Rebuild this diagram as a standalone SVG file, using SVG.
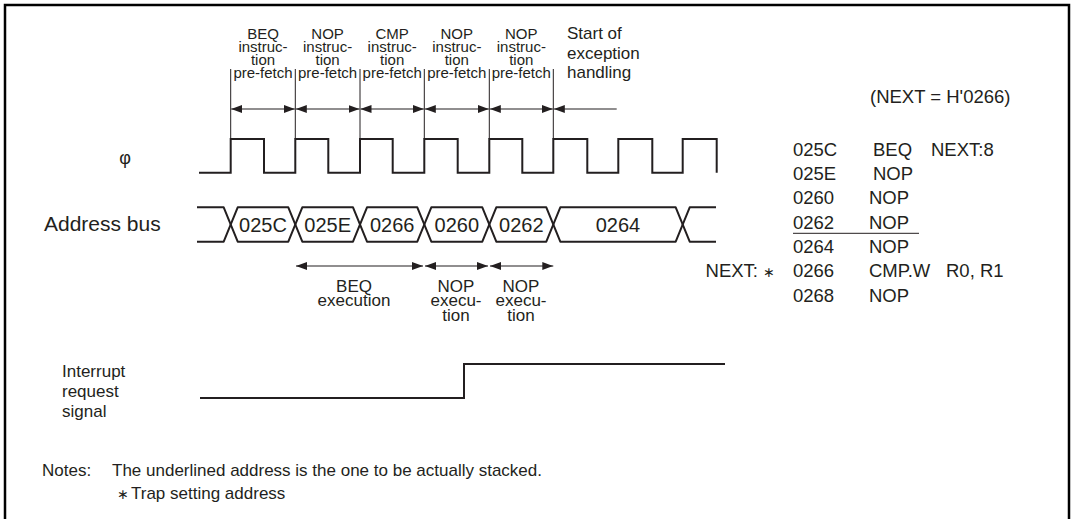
<svg xmlns="http://www.w3.org/2000/svg" width="1072" height="519" viewBox="0 0 1072 519">
<style>
text{font-family:"Liberation Sans",Arial,sans-serif;fill:#231f20}
.pf{font-size:15px;text-anchor:middle}
.lb{font-size:17px}
.bus{font-size:20px;text-anchor:middle}
.ls{font-size:18.5px}
.thin{stroke:#231f20;stroke-width:1;fill:none}
.sig{stroke:#231f20;stroke-width:2;fill:none}
.arr{stroke:#231f20;stroke-width:1.2;fill:none}
</style>
<defs>
<marker id="ah" viewBox="0 0 11 8" refX="11" refY="4" markerWidth="11" markerHeight="8" markerUnits="userSpaceOnUse" orient="auto-start-reverse"><path d="M0,0 L11,4 L0,8 z" fill="#231f20"/></marker>
</defs>
<rect width="1072" height="519" fill="#fff"/>
<path d="M5,525 V5 H1069 V525" fill="none" stroke="#000" stroke-width="2.5"/>

<g id="prefetch-labels">
<text class="pf" x="263" y="39">BEQ</text><text class="pf" x="263" y="52">instruc-</text><text class="pf" x="263" y="65">tion</text><text class="pf" x="263" y="78">pre-fetch</text>
<text class="pf" x="327.6" y="39">NOP</text><text class="pf" x="327.6" y="52">instruc-</text><text class="pf" x="327.6" y="65">tion</text><text class="pf" x="327.6" y="78">pre-fetch</text>
<text class="pf" x="392.2" y="39">CMP</text><text class="pf" x="392.2" y="52">instruc-</text><text class="pf" x="392.2" y="65">tion</text><text class="pf" x="392.2" y="78">pre-fetch</text>
<text class="pf" x="456.8" y="39">NOP</text><text class="pf" x="456.8" y="52">instruc-</text><text class="pf" x="456.8" y="65">tion</text><text class="pf" x="456.8" y="78">pre-fetch</text>
<text class="pf" x="521.3" y="39">NOP</text><text class="pf" x="521.3" y="52">instruc-</text><text class="pf" x="521.3" y="65">tion</text><text class="pf" x="521.3" y="78">pre-fetch</text>
<text class="lb" x="567" y="39">Start of</text><text class="lb" x="567" y="58.5">exception</text><text class="lb" x="567" y="78">handling</text>
</g>

<g id="connectors">
<path class="thin" d="M230.7,69 V139 M295.3,69 V139 M360,69 V139 M424.3,69 V139 M489.3,69 V139 M553.3,69 V139"/>
<path class="arr" marker-start="url(#ah)" marker-end="url(#ah)" d="M231.2,109 H294.8"/>
<path class="arr" marker-start="url(#ah)" marker-end="url(#ah)" d="M295.8,109 H359.5"/>
<path class="arr" marker-start="url(#ah)" marker-end="url(#ah)" d="M360.5,109 H423.8"/>
<path class="arr" marker-start="url(#ah)" marker-end="url(#ah)" d="M424.8,109 H488.8"/>
<path class="arr" marker-start="url(#ah)" marker-end="url(#ah)" d="M489.8,109 H552.8"/>
<path class="arr" marker-start="url(#ah)" d="M553.8,109 H616.7"/>
<path class="arr" marker-start="url(#ah)" marker-end="url(#ah)" d="M296,266 H423"/>
<path class="arr" marker-start="url(#ah)" marker-end="url(#ah)" d="M425,266 H488"/>
<path class="arr" marker-start="url(#ah)" marker-end="url(#ah)" d="M490,266 H553.3"/>
</g>

<g id="clock">
<text x="125" y="164" text-anchor="middle" style="font-size:18px">φ</text>
<path class="sig" d="M199,172.7 H230.7 V139 H264 V172.7 H295.3 V139 H328.3 V172.7 H360 V139 H392.7 V172.7 H424.3 V139 H457.7 V172.7 H489.3 V139 H522.3 V172.7 H553.3 V139 H587.3 V172.7 H618.3 V139 H652.3 V172.7 H682.7 V139 H716.7 V172.7"/>
</g>

<g id="address-bus">
<text x="44" y="231" style="font-size:21px">Address bus</text>
<path class="sig" stroke-linejoin="round" d="M197,207.3 H223.7 L237.7,241.7 H288.3 L302.3,207.3 H353 L367,241.7 H417.3 L431.3,207.3 H482.3 L496.3,241.7 H546.3 L560.3,207.3 H675.7 L689.7,241.7 H716"/>
<path class="sig" stroke-linejoin="round" d="M197,241.7 H223.7 L237.7,207.3 H288.3 L302.3,241.7 H353 L367,207.3 H417.3 L431.3,241.7 H482.3 L496.3,207.3 H546.3 L560.3,241.7 H675.7 L689.7,207.3 H716"/>
<text class="bus" x="263" y="231.5">025C</text>
<text class="bus" x="327.7" y="231.5">025E</text>
<text class="bus" x="392.2" y="231.5">0266</text>
<text class="bus" x="456.8" y="231.5">0260</text>
<text class="bus" x="521.3" y="231.5">0262</text>
<text class="bus" x="618" y="231.5">0264</text>
</g>

<g id="execution-labels">
<text class="lb" x="354" y="291.5" text-anchor="middle">BEQ</text>
<text class="lb" x="354" y="306" text-anchor="middle">execution</text>
<text class="lb" x="456" y="291.5" text-anchor="middle">NOP</text>
<text class="lb" x="456" y="306" text-anchor="middle">execu-</text>
<text class="lb" x="456" y="320.5" text-anchor="middle">tion</text>
<text class="lb" x="521" y="291.5" text-anchor="middle">NOP</text>
<text class="lb" x="521" y="306" text-anchor="middle">execu-</text>
<text class="lb" x="521" y="320.5" text-anchor="middle">tion</text>
</g>

<g id="listing">
<text class="ls" x="870" y="103">(NEXT = H'0266)</text>
<text class="ls" x="793" y="155.7">025C</text><text class="ls" x="873" y="155.7">BEQ</text><text class="ls" x="931" y="155.7">NEXT:8</text>
<text class="ls" x="793" y="180">025E</text><text class="ls" x="873" y="180">NOP</text>
<text class="ls" x="793" y="204.3">0260</text><text class="ls" x="869" y="204.3">NOP</text>
<text class="ls" x="793" y="228.7">0262</text><text class="ls" x="869" y="228.7">NOP</text>
<path class="thin" d="M793,233.3 H919"/>
<text class="ls" x="793" y="253">0264</text><text class="ls" x="869" y="253">NOP</text>
<text class="ls" x="758" y="277.3" text-anchor="end">NEXT:</text><text x="763" y="277.3" style="font-size:14px">∗</text>
<text class="ls" x="793" y="277.3">0266</text><text class="ls" x="869" y="277.3">CMP.W</text><text class="ls" x="946" y="277.3">R0,</text><text class="ls" x="980" y="277.3">R1</text>
<text class="ls" x="793" y="301.6">0268</text><text class="ls" x="869" y="301.6">NOP</text>
</g>

<g id="interrupt">
<text class="lb" x="62" y="377">Interrupt</text>
<text class="lb" x="62" y="397">request</text>
<text class="lb" x="62" y="417">signal</text>
<path class="sig" d="M200,398 H464 V364 H725"/>
</g>

<g id="notes">
<text class="lb" x="42" y="476">Notes:</text>
<text class="lb" x="112" y="476">The underlined address is the one to be actually stacked.</text>
<text x="117" y="499" style="font-size:14px">∗</text>
<text class="lb" x="131" y="499">Trap setting address</text>
</g>
</svg>
